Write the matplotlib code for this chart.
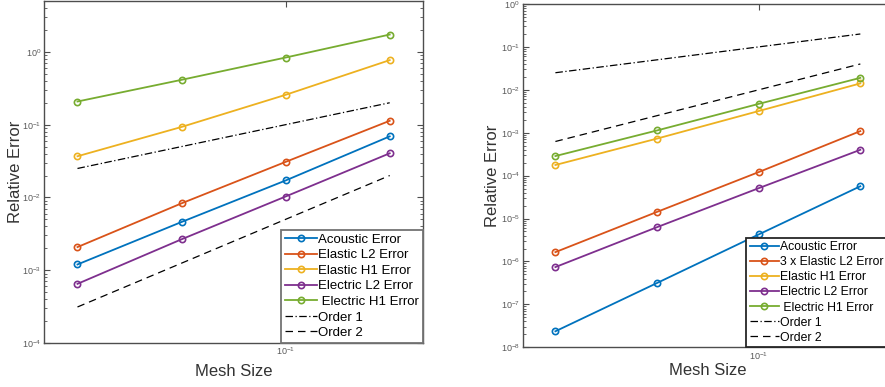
import matplotlib
matplotlib.use('Agg')
import matplotlib.pyplot as plt
from matplotlib.ticker import LogLocator, NullLocator, NullFormatter, FixedLocator

plt.rcParams['font.family'] = ['Liberation Sans', 'DejaVu Sans']

# mesh sizes
h = [0.025, 0.05, 0.1, 0.2]

# left panel
acoustic_l = [1.2e-3, 4.6e-3, 0.0171, 0.069]
elastic_l2_l = [2.08e-3, 8.3e-3, 0.0308, 0.113]
elastic_h1_l = [0.0368, 0.093, 0.257, 0.77]
electric_l2_l = [6.5e-4, 2.66e-3, 0.0103, 0.0404]
electric_h1_l = [0.208, 0.413, 0.836, 1.73]
order1_l = [0.025, 0.05, 0.1, 0.2]
order2_l = [3.125e-4, 1.25e-3, 5e-3, 0.02]

# right panel
acoustic_r = [2.36e-8, 3.15e-7, 4.26e-6, 5.66e-5]
elastic_l2_r = [1.65e-6, 1.43e-5, 1.21e-4, 1.09e-3]
elastic_h1_r = [1.77e-4, 7.3e-4, 3.2e-3, 0.0141]
electric_l2_r = [7.4e-7, 6.3e-6, 5.1e-5, 4.0e-4]
electric_h1_r = [2.86e-4, 1.13e-3, 4.7e-3, 0.019]
order1_r = [0.025, 0.05, 0.1, 0.2]
order2_r = [6.25e-4, 2.5e-3, 0.01, 0.04]

labels_l = ['Acoustic Error', 'Elastic L2 Error', 'Elastic H1 Error',
            'Electric L2 Error', ' Electric H1 Error', 'Order 1', 'Order 2']
labels_r = ['Acoustic Error', '3 x Elastic L2 Error', 'Elastic H1 Error',
            'Electric L2 Error', ' Electric H1 Error', 'Order 1', 'Order 2']

colors = ['#0072BD', '#D95319', '#EDB120', '#7E2F8E', '#77AC30']

fig = plt.figure(figsize=(8.85, 3.87), dpi=100)
ax1 = fig.add_axes([0.0497, 0.1137, 0.4285, 0.8837])
ax2 = fig.add_axes([0.5906, 0.1026, 0.4185, 0.8871])


def draw(ax, series, o1, o2, labels, ylim, edge, xlab_y, ylab_x, legsize, legx):
    for y, c, lab in zip(series, colors, labels[:5]):
        ax.plot(h, y, color=c, lw=1.3, marker='o', ms=4.5,
                mfc='none', mew=1.2, label=lab)
    ax.plot(h, o1, color='k', lw=0.9, ls=(0, (6, 2, 1, 2)), label=labels[5])
    ax.plot(h, o2, color='k', lw=0.9, ls=(0, (6, 4)), label=labels[6])
    ax.set_xscale('log')
    ax.set_yscale('log')
    ax.set_xlim(0.02, 0.25)
    ax.set_ylim(*ylim)
    ax.xaxis.set_major_locator(FixedLocator([0.1]))
    ax.xaxis.set_minor_locator(NullLocator())
    ax.xaxis.set_minor_formatter(NullFormatter())
    ax.yaxis.set_major_locator(LogLocator(base=10, numticks=20))
    ax.yaxis.set_minor_locator(LogLocator(base=10, subs=range(2, 10), numticks=20))
    ax.yaxis.set_minor_formatter(NullFormatter())
    ax.tick_params(which='both', direction='in', top=True, right=True,
                   labelsize=6.5, labelcolor='0.35', color='0.3', pad=2)
    ax.tick_params(which='major', length=4)
    ax.tick_params(which='minor', length=2.5)
    for s in ax.spines.values():
        s.set_color('0.3')
        s.set_linewidth(1.0)
    ax.set_xlabel('Mesh Size', fontsize=12, color='0.2', va='center')
    ax.set_ylabel('Relative Error', fontsize=12, color='0.2', va='center')
    ax.xaxis.set_label_coords(0.5, xlab_y)
    ax.yaxis.set_label_coords(ylab_x, 0.5)
    leg = ax.legend(loc='lower right', bbox_to_anchor=(legx, 0),
                    fontsize=legsize, borderaxespad=0,
                    fancybox=False, framealpha=1, edgecolor=edge,
                    handlelength=2.4, handletextpad=0.1, labelspacing=0.25,
                    borderpad=0.3)
    leg.get_frame().set_linewidth(1.3)


draw(ax1, [acoustic_l, elastic_l2_l, elastic_h1_l, electric_l2_l, electric_h1_l],
     order1_l, order2_l, labels_l, (1e-4, 5), '0.45', -0.082, -0.076, 9.5, 1.0)
draw(ax2, [acoustic_r, elastic_l2_r, elastic_h1_r, electric_l2_r, electric_h1_r],
     order1_r, order2_r, labels_r, (1e-8, 1), '0.15', -0.069, -0.082, 8.8, 0.985)

fig.savefig('out.png', dpi=100)
